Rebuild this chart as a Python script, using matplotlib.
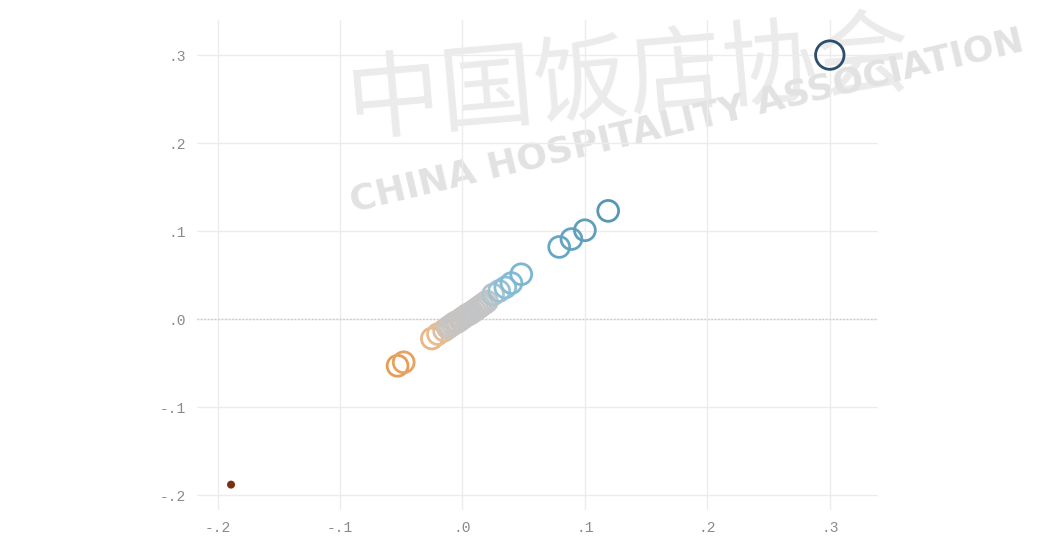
import matplotlib
matplotlib.use("Agg")
import matplotlib.pyplot as plt
from matplotlib.colors import LinearSegmentedColormap, TwoSlopeNorm
import numpy as np

# ---- data ----
x_vals = [-0.189, -0.053, -0.048, -0.025, -0.020, -0.015,
          -0.012, -0.010, -0.008, -0.006, -0.004, -0.002, 0.000, 0.002,
          0.004, 0.006, 0.008, 0.010, 0.012, 0.014, 0.016, 0.018, 0.020,
          0.025, 0.030, 0.035, 0.040, 0.048,
          0.079, 0.089, 0.100, 0.119, 0.300]
y_vals = [-0.188, -0.053, -0.049, -0.022, -0.017, -0.013,
          -0.010, -0.008, -0.006, -0.004, -0.003, -0.001, 0.001, 0.003,
          0.005, 0.006, 0.008, 0.010, 0.012, 0.014, 0.016, 0.018, 0.020,
          0.028, 0.032, 0.036, 0.041, 0.051,
          0.082, 0.091, 0.101, 0.123, 0.300]
sizes = [14] + [225] * 31 + [420]

x_ticks = [-0.2, -0.1, 0.0, 0.1, 0.2, 0.3]
y_ticks = [-0.2, -0.1, 0.0, 0.1, 0.2, 0.3]
x_tick_labels = ["-.2", "-.1", ".0", ".1", ".2", ".3"]
y_tick_labels = ["-.2", "-.1", ".0", ".1", ".2", ".3"]

watermark_cn = "中国饭店协会"
watermark_en = "CHINA HOSPITALITY ASSOCIATION"

# ---- figure ----
fig = plt.figure(figsize=(10.41, 5.37), dpi=100)
ax = fig.add_axes([0.189, 0.050, 0.654, 0.913])
ax.set_facecolor("none")
ax.set_zorder(2)

cmap = LinearSegmentedColormap.from_list(
    "ob",
    [(0.0, "#7a2e14"), (0.25, "#c9752e"), (0.37, "#e6a15c"),
     (0.45, "#ecbb8e"), (0.475, "#c8c4c0"), (0.535, "#c2c4c6"),
     (0.555, "#8cc0d8"), (0.60, "#70afcc"), (0.70, "#5697b3"),
     (1.0, "#2c4d6b")])
norm = TwoSlopeNorm(vmin=-0.19, vcenter=0.0, vmax=0.30)

colors = cmap(norm(np.array(x_vals)))
face = ["none"] * len(x_vals)
face[0] = colors[0]

ax.scatter(x_vals, y_vals, s=sizes, facecolors=face, edgecolors=colors,
           linewidths=2.0, zorder=3)

ax.set_xlim(-0.217, 0.339)
ax.set_ylim(-0.217, 0.340)

ax.set_xticks(x_ticks)
ax.set_xticklabels(x_tick_labels)
ax.set_yticks(y_ticks)
ax.set_yticklabels(y_tick_labels)
for lab in ax.get_xticklabels() + ax.get_yticklabels():
    lab.set_fontfamily("Liberation Mono")
    lab.set_fontsize(10.5)
    lab.set_color("#8a8a8a")
ax.tick_params(length=0, pad=8)

ax.grid(True, color="#ececec", linewidth=1.0, zorder=0)
ax.set_axisbelow(True)
# dotted zero line
ax.axhline(0.0, color="#c8c8c8", linewidth=1.0, linestyle=(0, (1, 1.5)), zorder=1)
for s in ax.spines.values():
    s.set_visible(False)

# faint watermark (behind the axes)
fig.text(0.605, 0.85, watermark_cn, fontsize=68, color="#ebebeb",
         family=["Noto Sans CJK SC", "DejaVu Sans"], rotation=5,
         ha="center", va="center", zorder=-1)
fig.text(0.66, 0.775, watermark_en, fontsize=26, color="#e2e2e2",
         fontweight="bold", family="DejaVu Sans", rotation=13.5,
         ha="center", va="center", zorder=-1)

fig.savefig("out.png", dpi=100)
